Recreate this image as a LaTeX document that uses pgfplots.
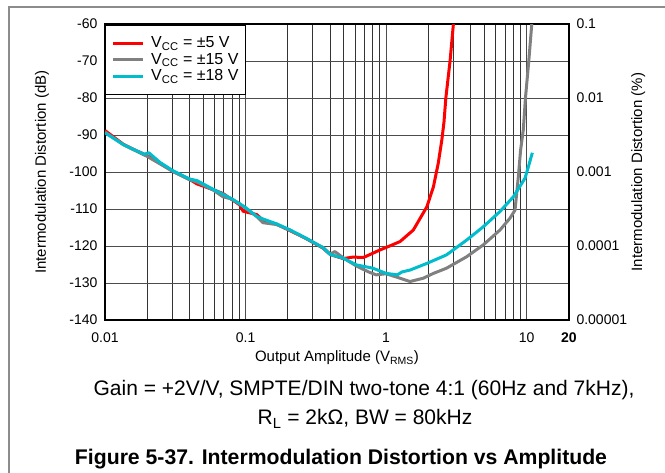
\documentclass[border=0pt]{standalone}
\usepackage{graphicx}
\usepackage{fontspec}
\setmainfont{Liberation Sans}
\usepackage{pgfplots}
\pgfplotsset{compat=1.18}
\definecolor{tired}{RGB}{255,0,0}
\definecolor{tigray}{RGB}{128,128,128}
\definecolor{ticyan}{RGB}{0,188,204}
\begin{document}
\begin{tikzpicture}[x=1pt,y=1pt]
\useasboundingbox (0,0) rectangle (665,472);
% outer frame (only left and top edges are visible)
\draw[black!45, line width=2pt] (9,-5) -- (9,465) -- (670,465);

\begin{axis}[
  at={(105pt,152pt)}, anchor=south west,
  width=464pt, height=296pt, scale only axis,
  xmode=log, xmin=0.01, xmax=20,
  ymin=-140, ymax=-60,
  xtick={0.01,0.1,1,10,20},
  xticklabels={0.01,0.1,1,10,\textbf{20}},
  minor xtick={0.02,0.03,0.04,0.05,0.06,0.07,0.08,0.09,
               0.2,0.3,0.4,0.5,0.6,0.7,0.8,0.9,
               2,3,4,5,6,7,8,9},
  ytick={-140,-130,-120,-110,-100,-90,-80,-70,-60},
  yticklabels={-140,-130,-120,-110,-100,-90,-80,-70,-60},
  xmajorgrids, xminorgrids, ymajorgrids,
  major grid style={black!70, line width=0.9pt},
  minor grid style={black!80, line width=0.8pt},
  major tick length=0pt, minor tick length=0pt,
  axis line style={line width=2pt},
  tick label style={font=\fontsize{14}{16}\selectfont},
  xticklabel style={yshift=-9pt},
  yticklabel style={xshift=-4pt},
  xlabel={Output Amplitude (V\textsubscript{RMS})},
  ylabel={Intermodulation Distortion (dB)},
  label style={font=\fontsize{15}{17}\selectfont},
  xlabel style={at={(axis description cs:0.5,-0.128)}, anchor=center},
  ylabel style={at={(axis description cs:-0.136,0.5)}, anchor=center},
  legend style={at={(0,1)}, anchor=north west, draw=black, line width=1.5pt,
    font=\fontsize{16}{18}\selectfont, inner xsep=5pt, inner ysep=10pt,
    row sep=0pt, legend cell align=left},
  legend image code/.code={\draw[#1] (2.5pt,0pt) -- (32.5pt,0pt);
    \path[draw=none] (0pt,0pt) -- (38.5pt,0pt);},
  every axis plot/.append style={line width=3pt, line join=round},
]
\addplot[tired] coordinates {
  (0.01,-88.8) (0.0135,-92.5) (0.016,-93.9) (0.02,-95.6) (0.0246,-97.6)
  (0.0306,-99.9) (0.04,-102) (0.045,-103.2) (0.059,-104.8) (0.069,-105.8)
  (0.091,-108.9) (0.096,-110.6) (0.12,-111.5) (0.133,-113) (0.166,-114.1)
  (0.206,-115.8) (0.27,-118) (0.356,-120.6) (0.40,-122.3) (0.495,-123.4)
  (0.58,-123) (0.69,-123.1) (0.80,-122) (0.90,-121.1) (1.06,-120)
  (1.256,-118.8) (1.56,-115.7) (1.95,-109.4) (2.17,-104) (2.35,-97.6)
  (2.49,-91.4) (2.58,-86.5) (2.66,-80) (2.85,-70) (3.01,-60)
};
\addlegendentry{V\textsubscript{CC} = ±5 V}
\addplot[tigray] coordinates {
  (0.01,-89.2) (0.0135,-92.6) (0.016,-94) (0.02,-95.8) (0.0246,-97.8)
  (0.0306,-99.9) (0.04,-102.1) (0.045,-102.7) (0.059,-104.9) (0.069,-106.7)
  (0.08,-107.3) (0.091,-108.6) (0.1,-109.8) (0.12,-112) (0.133,-113.7)
  (0.166,-114.2) (0.206,-115.7) (0.27,-118) (0.356,-120.4) (0.40,-122.2)
  (0.432,-121.5) (0.495,-123.2) (0.614,-125.4) (0.75,-127) (0.85,-127.8)
  (1.0,-127.5) (1.256,-128.7) (1.48,-129.6) (1.84,-128.7) (2.17,-127.4)
  (2.69,-126) (3.74,-122.9) (4.91,-119.7) (6.45,-115.7) (7.6,-112.5)
  (8.26,-110.3) (8.72,-101.3) (9.05,-94.1) (9.46,-88.6) (9.8,-80)
  (10.35,-70) (10.87,-60)
};
\addlegendentry{V\textsubscript{CC} = ±15 V}
\addplot[ticyan] coordinates {
  (0.01,-89.4) (0.0135,-92.6) (0.016,-93.9) (0.019,-95.2) (0.0205,-94.8)
  (0.0246,-97.4) (0.0306,-99.7) (0.04,-101.9) (0.045,-102.3) (0.059,-104.7)
  (0.069,-106) (0.08,-107.3) (0.1,-109.6) (0.12,-112) (0.133,-112.7)
  (0.166,-114) (0.206,-115.6) (0.27,-117.9) (0.356,-120.5) (0.40,-122.3)
  (0.495,-123.3) (0.614,-125.1) (0.805,-126) (1.0,-127.4) (1.2,-127.8)
  (1.3,-127) (1.48,-126.5) (1.95,-124.7) (2.69,-122.4) (3.74,-118.4)
  (4.91,-114.8) (6.45,-110.7) (8.04,-106.7) (9.72,-101.7) (10.28,-98.6)
  (10.97,-94.8)
};
\addlegendentry{V\textsubscript{CC} = ±18 V}
\end{axis}

% right-hand percent scale
\begin{axis}[
  at={(105pt,152pt)}, anchor=south west,
  width=464pt, height=296pt, scale only axis,
  xmode=log, xmin=0.01, xmax=20,
  ymode=log, ymin=0.00001, ymax=0.1,
  axis y line*=right, axis x line=none,
  ytick={0.00001,0.0001,0.001,0.01,0.1},
  yticklabels={0.00001,0.0001,0.001,0.01,0.1},
  yminorticks=false,
  major tick length=0pt,
  axis line style={line width=2pt},
  tick label style={font=\fontsize{14}{16}\selectfont},
  yticklabel style={xshift=4pt},
  ylabel={Intermodulation Distortion (\%)},
  ylabel style={font=\fontsize{15}{17}\selectfont,
    at={(axis description cs:1.149,0.5)}, anchor=center},
]
\end{axis}

\node[font=\fontsize{21}{24}\selectfont, anchor=base] at (364,77)
  {Gain = +2V/V, SMPTE/DIN two-tone 4:1 (60Hz and 7kHz),};
\node[font=\fontsize{21}{24}\selectfont, anchor=base] at (365,47)
  {R\textsubscript{L} = 2k\symbol{"03A9}, BW = 80kHz};
\node[font=\fontsize{21.2}{24}\selectfont\bfseries, anchor=base] at (341,8)
  {Figure 5-37. Intermodulation Distortion vs Amplitude};
\end{tikzpicture}
\end{document}
